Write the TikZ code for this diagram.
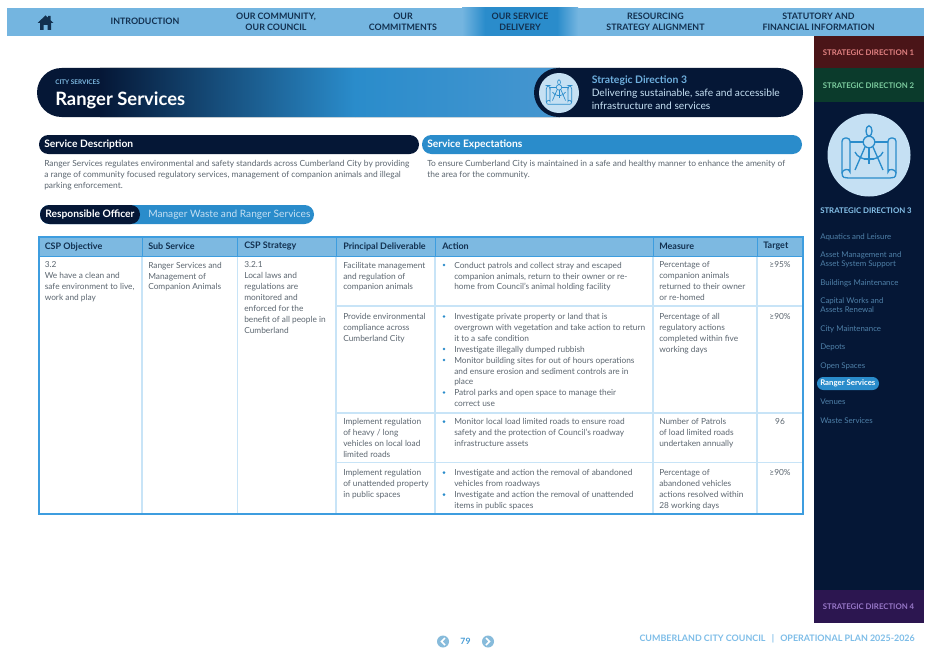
\documentclass[tikz,border=0pt]{standalone}
\usepackage{fontspec}
\setmainfont{Lato}
\usetikzlibrary{calc}
\definecolor{navy}{HTML}{051736}
\definecolor{barblue}{HTML}{74B5E0}
\definecolor{midblue}{HTML}{2A8CCB}
\definecolor{headblue}{HTML}{7DB9E1}
\definecolor{edgeblue}{HTML}{3D9DDF}
\definecolor{ruleblue}{HTML}{C8E4F7}
\definecolor{paleblue}{HTML}{C5E0F3}
\definecolor{bodygrey}{HTML}{5C6670}
\definecolor{navtext}{HTML}{12304F}
\definecolor{sidetext}{HTML}{4F80A8}
\definecolor{sdred}{HTML}{4A1518}
\definecolor{sdgreen}{HTML}{0B3B2C}
\definecolor{sdpurple}{HTML}{2C1650}
\definecolor{sdredt}{HTML}{E28282}
\definecolor{sdgreent}{HTML}{7DCDA0}
\definecolor{sdpurplet}{HTML}{9878C8}
\definecolor{sdbluet}{HTML}{87C3EB}
\definecolor{bandend}{HTML}{4696D0}
\definecolor{sdhead}{HTML}{6EAFDE}
\definecolor{navcircle}{HTML}{87BBDB}
\definecolor{pagetext}{HTML}{469BD5}
\definecolor{foottext}{HTML}{7DBDE8}
\tikzset{
  navlabel/.style={inner sep=0pt,align=center,text=navtext,font=\bfseries\fontsize{6.65}{8.2}\selectfont},
  sdlabel/.style={inner sep=0pt,anchor=center,font=\bfseries\fontsize{5.85}{7}\selectfont},
  sidelabel/.style={inner sep=0pt,anchor=north west,align=left,text=sidetext,yshift=-1.1pt,font=\fontsize{5.9}{7}\selectfont},
  cell/.style={inner sep=0pt,anchor=north west,align=left,text=bodygrey,yshift=-.5pt,font=\fontsize{6.25}{8.2}\selectfont},
  headcell/.style={inner sep=0pt,anchor=west,text=navtext,font=\bfseries\fontsize{6.75}{8}\selectfont},
  pilltitle/.style={inner sep=0pt,anchor=west,text=white,font=\bfseries\fontsize{7.7}{9}\selectfont},
  bulletdot/.style={circle,fill=midblue,inner sep=0pt,minimum size=2.2pt},
  compassicon/.pic={
    \draw[rounded corners=2.5pt] (-19,-13) -- (-19,-17) -- (-27,-17) -- (-27,18) ;
    \draw (-27,18) .. controls (-27,14) and (-19,13) .. (-19,17) -- (-19,-13);
    \draw[rounded corners=2.5pt] (19,-13) -- (19,-17) -- (27,-17) -- (27,18);
    \draw (27,18) .. controls (27,14) and (19,13) .. (19,17) -- (19,-13);
    \draw (-27,18) .. controls (-27,23) and (-24,23) .. (-21,23) -- (21,23) .. controls (24,23) and (27,23) .. (27,18);
    \draw (-19,-13) -- (-6,-13) (6,-13) -- (19,-13);
    \draw (0,-13) circle (5.8);
    \draw (0,-24) ellipse (3 and 5.2);
    \draw (-4,-8) -- (-14,15) (4,-8) -- (14,15);
    \draw (-14,-3) .. controls (-10,7) and (10,7) .. (14,-3);
    \draw (0,-7) -- (0,9) (-5,4) -- (5,4);
  }
}
\begin{document}
\begin{tikzpicture}[x=0.75pt,y=-0.75pt]
\useasboundingbox (0,0) rectangle (930,660);
\fill[white] (0,0) rectangle (930,660);
% top bar
\fill[barblue] (6.5,8) rectangle (924,36);
\begin{scope}
\clip (6.5,8) rectangle (924,36);
\fill[left color=barblue,right color=midblue] (462,4) rectangle (485,40);
\fill[midblue] (485,4) rectangle (557,40);
\fill[left color=midblue,right color=barblue] (557,4) rectangle (578,40);
\end{scope}
\fill[navtext] (45.5,15.5) -- (37.5,23) -- (40,23) -- (40,30) -- (43.5,30) -- (43.5,25) -- (47.5,25) -- (47.5,30) -- (51,30) -- (51,23) -- (53.5,23) -- (50.5,20.2) -- (50.5,16) -- (48.2,16) -- (48.2,17.8) -- cycle;
\node[navlabel] (n1) at (145,21.5) {INTRODUCTION};
\node[navlabel] (n2) at (276,21.5) {OUR COMMUNITY,\\OUR COUNCIL};
\node[navlabel] (n3) at (403,21.5) {OUR\\COMMITMENTS};
\node[navlabel] (n4) at (520,21.5) {OUR SERVICE\\DELIVERY};
\node[navlabel] (n5) at (655.5,21.5) {RESOURCING\\STRATEGY ALIGNMENT};
\node[navlabel] (n6) at (818.5,21.5) {STATUTORY AND\\FINANCIAL INFORMATION};
% side panel
\fill[sdred] (814,36) rectangle (924,68);
\fill[sdgreen] (814,68) rectangle (924,102);
\fill[navy] (814,102) rectangle (924,590);
\fill[sdpurple] (814,590) rectangle (924,623);
\node[sdlabel,text=sdredt] (sd1) at (868.5,52.8) {STRATEGIC DIRECTION 1};
\node[sdlabel,text=sdgreent] (sd2) at (868.5,85.3) {STRATEGIC DIRECTION 2};
\node[sdlabel,text=sdpurplet] (sd4) at (868.5,607) {STRATEGIC DIRECTION 4};
\fill[paleblue] (869,155) circle (41.5);
\pic[draw=midblue,line width=1pt] at (869,155) {compassicon};
\node[sdlabel,anchor=west,text=sdbluet] (sd3) at (820,211) {STRATEGIC DIRECTION 3};
\node[sidelabel] (s1) at (820,232) {Aquatics and Leisure};
\node[sidelabel] (s2) at (820,250) {Asset Management and\\Asset System Support};
\node[sidelabel] (s3) at (820,278) {Buildings Maintenance};
\node[sidelabel] (s4) at (820,296) {Capital Works and\\Assets Renewal};
\node[sidelabel] (s5) at (820,324) {City Maintenance};
\node[sidelabel] (s6) at (820,342.5) {Depots};
\node[sidelabel] (s7) at (820,361) {Open Spaces};
\fill[midblue,rounded corners=4.8pt] (817,377) rectangle (879,390);
\node[sidelabel,text=white,yshift=.9pt,font=\bfseries\fontsize{5.85}{7}\selectfont] (s8) at (820,379.5) {Ranger Services};
\node[sidelabel] (s9) at (820,397.5) {Venues};
\node[sidelabel] (s10) at (820,416) {Waste Services};
% header band
\begin{scope}
\clip[rounded corners=18.4pt] (37,68) rectangle (803,117);
\fill[navy] (37,64) rectangle (100,121);
\fill[left color=navy,right color=midblue] (100,64) rectangle (355,121);
\fill[left color=midblue,right color=bandend] (355,64) rectangle (560,121);
\end{scope}
\fill[navy,rounded corners=18.4pt] (534,68) rectangle (803,117);
\fill[paleblue] (559,93) circle (20);
\pic[draw=midblue,line width=.5pt,scale=.47] at (559,93.5) {compassicon};
\node[inner sep=0pt,anchor=west,text=headblue,font=\bfseries\fontsize{4.8}{5}\selectfont] (cs) at (55,82) {CITY SERVICES};
\node[inner sep=0pt,anchor=west,text=white,font=\bfseries\fontsize{13.8}{15}\selectfont] (rs) at (55,100.5) {Ranger Services};
\node[inner sep=0pt,anchor=west,text=sdhead,font=\bfseries\fontsize{7.8}{9}\selectfont] (sd) at (591.5,80.5) {Strategic Direction 3};
\node[inner sep=0pt,anchor=north west,align=left,text=paleblue,font=\fontsize{7.66}{9.75}\selectfont] (sdt) at (591.5,88.8) {Delivering sustainable, safe and accessible\\infrastructure and services};
% service pills
\fill[navy,rounded corners=7pt] (39,135) rectangle (419,154);
\fill[midblue,rounded corners=7pt] (422,135) rectangle (802,154);
\node[pilltitle] (sdesc) at (44,144.6) {Service Description};
\node[pilltitle] (sexp) at (427,144.6) {Service Expectations};
\node[cell,font=\fontsize{6.32}{8.2}\selectfont] (dt) at (44,159) {Ranger Services regulates environmental and safety standards across Cumberland City by providing\\a range of community focused regulatory services, management of companion animals and illegal\\parking enforcement.};
\node[cell,font=\fontsize{6.32}{8.2}\selectfont] (et) at (427,159) {To ensure Cumberland City is maintained in a safe and healthy manner to enhance the amenity of\\the area for the community.};
% responsible officer
\fill[midblue,rounded corners=7pt] (40,205) rectangle (314,224);
\fill[navy,rounded corners=7pt] (40,205) rectangle (140,224);
\node[pilltitle] (ro) at (45,214.5) {Responsible Officer};
\node[pilltitle,text=paleblue,font=\fontsize{7.6}{9}\selectfont] (rov) at (148,214.5) {Manager Waste and Ranger Services};
% table
\fill[headblue] (38,236) rectangle (803,256);
\foreach \cx in {142,237.5,336,435,653,757}{
  \draw[ruleblue,line width=.8pt] (\cx,256) -- (\cx,514);
  \draw[edgeblue,line width=.7pt] (\cx,236) -- (\cx,256);
}
\foreach \ry in {306,413,462.5}{
  \draw[ruleblue,line width=.8pt] (336,\ry) -- (803,\ry);
}
\draw[edgeblue,line width=1.5pt] (38.5,236.5) rectangle (802.5,514);
\draw[edgeblue,line width=.7pt] (38,256) -- (803,256);
\node[headcell] (h1) at (44.5,246.5) {CSP Objective};
\node[headcell] (h2) at (148,246.5) {Sub Service};
\node[headcell] (h3) at (244,246.5) {CSP Strategy};
\node[headcell] (h4) at (343,246.5) {Principal Deliverable};
\node[headcell] (h5) at (442,246.5) {Action};
\node[headcell] (h6) at (659,246.5) {Measure};
\node[headcell] (h7) at (763,246.5) {Target};
\node[cell] (c1) at (44.5,261) {3.2\\We have a clean and\\safe environment to live,\\work and play};
\node[cell] (c2) at (148,261) {Ranger Services and\\Management of\\Companion Animals};
\node[cell] (c3) at (244,261) {3.2.1\\Local laws and\\regulations are\\monitored and\\enforced for the\\benefit of all people in\\Cumberland};
\node[cell] (d1) at (343,261) {Facilitate management\\and regulation of\\companion animals};
\node[cell] (d2) at (343,312.3) {Provide environmental\\compliance across\\Cumberland City};
\node[cell] (d3) at (343,417.7) {Implement regulation\\of heavy / long\\vehicles on local load\\limited roads};
\node[cell] (d4) at (343,468.7) {Implement regulation\\of unattended property\\in public spaces};
\node[cell] (a1) at (454,261) {Conduct patrols and collect stray and escaped\\companion animals, return to their owner or re-\\home from Council's animal holding facility};
\node[cell] (a2) at (454,312.3) {Investigate private property or land that is\\overgrown with vegetation and take action to return\\it to a safe condition\\Investigate illegally dumped rubbish\\Monitor building sites for out of hours operations\\and ensure erosion and sediment controls are in\\place\\Patrol parks and open space to manage their\\correct use};
\node[cell] (a3) at (454,417.7) {Monitor local load limited roads to ensure road\\safety and the protection of Council's roadway\\infrastructure assets};
\node[cell] (a4) at (454,468.7) {Investigate and action the removal of abandoned\\vehicles from roadways\\Investigate and action the removal of unattended\\items in public spaces};
\foreach \by in {265,316.5,349,360,392.5,421.7,472.7,494.7}{
  \node[bulletdot] at (444,\by) {};
}
\node[cell] (m1) at (659,261) {Percentage of\\companion animals\\returned to their owner\\or re-homed};
\node[cell] (m2) at (659,312.3) {Percentage of all\\regulatory actions\\completed within five\\working days};
\node[cell] (m3) at (659,417.7) {Number of Patrols\\of load limited roads\\undertaken annually};
\node[cell] (m4) at (659,468.7) {Percentage of\\abandoned vehicles\\actions resolved within\\28 working days};
\node[cell,anchor=north] (t1) at (780,261) {≥95\%};
\node[cell,anchor=north] (t2) at (780,312.3) {≥90\%};
\node[cell,anchor=north] (t3) at (780,417.7) {96};
\node[cell,anchor=north] (t4) at (780,468.7) {≥90\%};
% footer
\fill[navcircle] (443,641.5) circle (6);
\fill[navcircle] (488,641.5) circle (6);
\draw[white,line width=1.2pt] (445,638) -- (441.5,641.5) -- (445,645);
\draw[white,line width=1.2pt] (486,638) -- (489.5,641.5) -- (486,645);
\node[inner sep=0pt,text=pagetext,font=\bfseries\fontsize{6.5}{8}\selectfont] (pg) at (465.5,641.5) {79};
\node[inner sep=0pt,anchor=east,text=foottext,font=\bfseries\fontsize{6.7}{8}\selectfont] (ft) at (915,639) {CUMBERLAND CITY COUNCIL\hspace{3pt} | \hspace{3pt}OPERATIONAL PLAN 2025-2026};
\end{tikzpicture}
\end{document}
